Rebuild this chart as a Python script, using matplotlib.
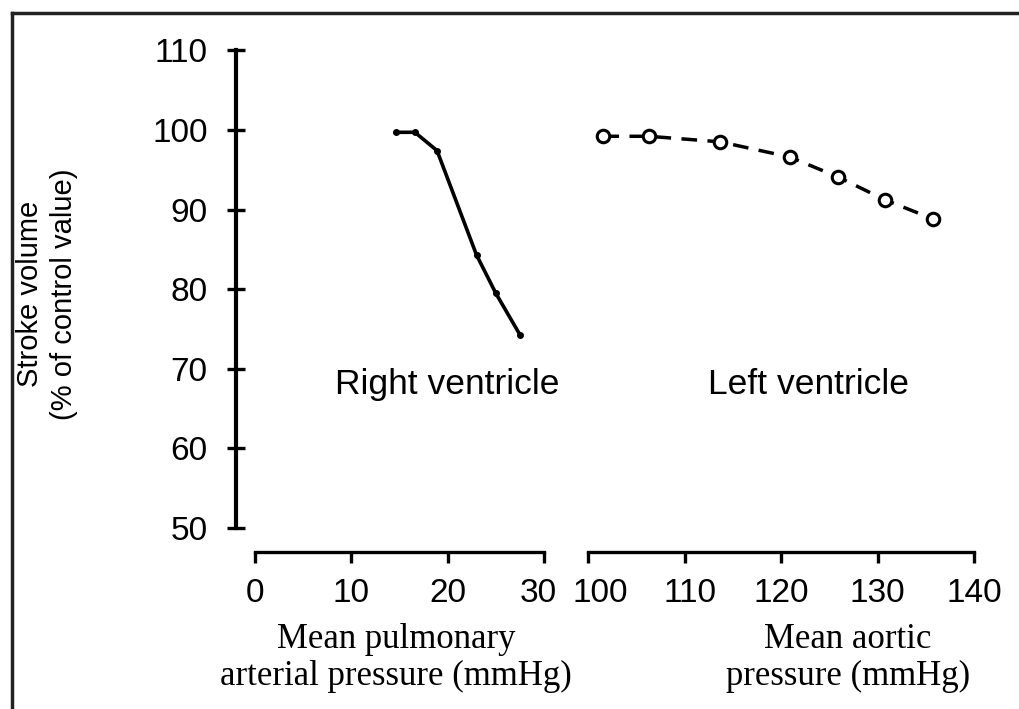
import matplotlib
matplotlib.use("Agg")
import matplotlib.pyplot as plt
from matplotlib.lines import Line2D
from matplotlib.transforms import ScaledTranslation

# ==================== 数据 ====================
rv_pressure = [14.6, 16.6, 18.9, 23.0, 25.0, 27.5]      # mean pulmonary arterial pressure
rv_stroke = [99.7, 99.7, 97.4, 84.3, 79.5, 74.3]
lv_pressure = [101.6, 106.3, 113.7, 120.9, 125.9, 130.8, 135.8]  # mean aortic pressure
lv_stroke = [99.2, 99.2, 98.5, 96.6, 94.1, 91.2, 88.8]

y_ticks = [50, 60, 70, 80, 90, 100, 110]
rv_ticks = [0, 10, 20, 30]
lv_ticks = [100, 110, 120, 130, 140]

plt.rcParams['font.family'] = ['Liberation Sans', 'DejaVu Sans']
serif = ['Liberation Serif', 'DejaVu Serif']

fig = plt.figure(figsize=(10.19, 7.09), dpi=100)
W, H = 1019, 709

def px_axes(x0, x1, y0=42.3, y1=552):
    return fig.add_axes([x0 / W, 1 - y1 / H, (x1 - x0) / W, (y1 - y0) / H])

ax1 = px_axes(236, 575)
ax2 = px_axes(588, 974)

ylim = (47, 111)
for ax in (ax1, ax2):
    ax.set_ylim(*ylim)
    for s in ('top', 'right'):
        ax.spines[s].set_visible(False)
    ax.spines['bottom'].set_linewidth(2.4)
    ax.tick_params(axis='x', direction='out', length=8, width=2.4,
                   labelsize=24, pad=11)

ax1.set_xlim(-1.98, (575 - 255) / 9.63)
ax2.set_xlim(100, 140)

# 左轴
ax1.spines['left'].set_linewidth(3)
ax1.spines['left'].set_bounds(50, 110)
ax1.spines['bottom'].set_bounds(0, 30)
ax1.set_yticks(y_ticks)
ax1.tick_params(axis='y', direction='inout', length=13, width=2.4,
                labelsize=24, pad=14)
ax1.set_xticks(rv_ticks)

ax2.spines['left'].set_visible(False)
ax2.set_yticks([])
ax2.spines['bottom'].set_bounds(100, 140)
ax2.set_xticks(lv_ticks)

# "30" 和 "100" 稍微错开，避免挤在一起
def nudge(label, dx_px):
    label.set_transform(label.get_transform() +
                        ScaledTranslation(dx_px / 100, 0, fig.dpi_scale_trans))

nudge(ax1.get_xticklabels()[-1], -6)
nudge(ax2.get_xticklabels()[0], 12)
nudge(ax2.get_xticklabels()[1], 6)

# 曲线
ax1.plot(rv_pressure, rv_stroke, '-', color='black', lw=2.6,
         marker='o', markersize=4, clip_on=False)
ax2.plot(lv_pressure, lv_stroke, color='black', lw=2.5, dashes=(4.5, 3),
         marker='o', markersize=9, markerfacecolor='white',
         markeredgewidth=2.2, clip_on=False)

ax1.text(20.0, 68, 'Right ventricle', ha='center', va='center', fontsize=25.5)
ax2.text(122.8, 68, 'Left ventricle', ha='center', va='center', fontsize=25.5)

fig.text(47 / W, 1 - 294 / H, 'Stroke volume\n(% of control value)',
         rotation=90, ha='center', va='center', fontsize=21, linespacing=1.3)

fig.text(396 / W, 1 - 658 / H, 'Mean pulmonary\narterial pressure (mmHg)',
         ha='center', va='center', fontsize=25, family=serif, linespacing=1.15)
fig.text(848 / W, 1 - 658 / H, 'Mean aortic\npressure (mmHg)',
         ha='center', va='center', fontsize=25, family=serif, linespacing=1.15)

# 外框（左边和上边）
fig.add_artist(Line2D([12 / W, 12 / W], [0, 1 - 13 / H], color='#222222', lw=2.5,
                      transform=fig.transFigure))
fig.add_artist(Line2D([12 / W, 1], [1 - 13 / H, 1 - 13 / H], color='#222222', lw=2.5,
                      transform=fig.transFigure))

fig.savefig('out.png', dpi=100)
